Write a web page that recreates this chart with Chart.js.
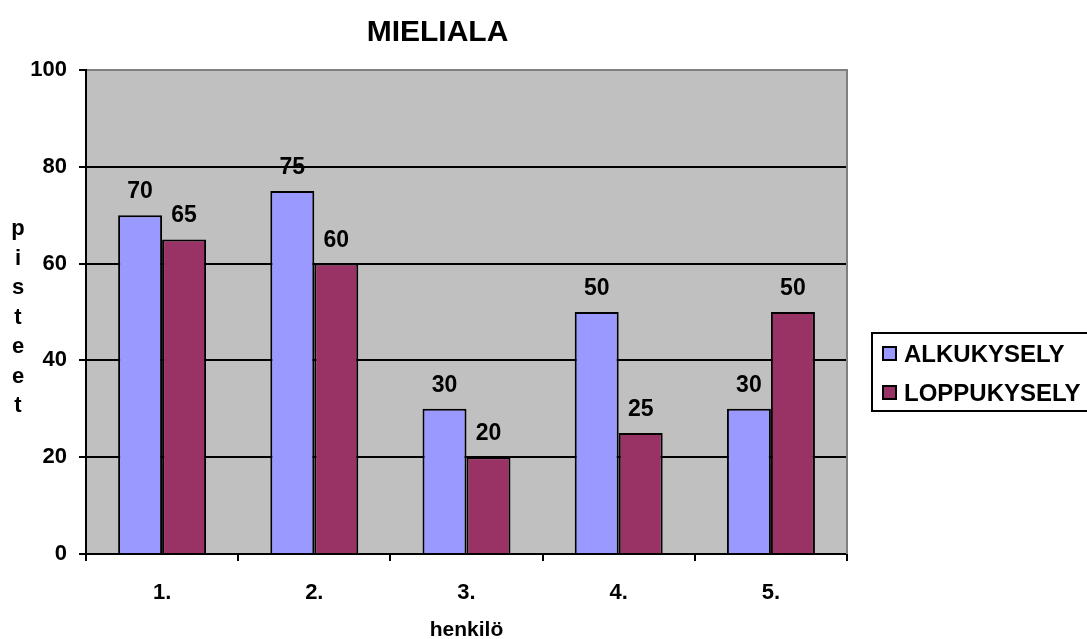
<!DOCTYPE html>
<html>
<head>
<meta charset="utf-8">
<title>MIELIALA</title>
<script src="https://cdn.jsdelivr.net/npm/chart.js@4/dist/chart.umd.min.js"></script>
<style>
  html, body { margin: 0; padding: 0; background: #ffffff; }
  #wrap { width: 1087px; height: 639px; }
</style>
</head>
<body>
<div id="wrap"><canvas id="chart" width="1087" height="639"></canvas></div>
<script>
// Mood scores per person, start and end survey
const categories = ['1.', '2.', '3.', '4.', '5.'];
const alkukysely = [70, 75, 30, 50, 30];
const loppukysely = [65, 60, 20, 25, 50];
const seriesNames = ['ALKUKYSELY', 'LOPPUKYSELY'];
const seriesColors = ['#9999FF', '#993366'];
const yTitleLetters = ['p', 'i', 's', 't', 'e', 'e', 't'];
const chartTitle = 'MIELIALA';

const FONT = "'Liberation Sans', Arial, Helvetica, sans-serif";

// Gray plot background plus the gray right frame edge
const plotBackground = {
  id: 'plotBackground',
  beforeDraw(chart) {
    const { ctx, chartArea: a } = chart;
    ctx.save();
    ctx.fillStyle = '#C0C0C0';
    ctx.fillRect(a.left, a.top, a.right - a.left, a.bottom - a.top);
    ctx.restore();
  },
  beforeDatasetsDraw(chart) {
    const { ctx, chartArea: a } = chart;
    ctx.save();
    ctx.strokeStyle = '#808080';
    ctx.lineWidth = 2;
    ctx.beginPath();
    ctx.moveTo(a.right, a.top - 1);
    ctx.lineTo(a.right, a.bottom);
    ctx.stroke();
    ctx.restore();
  }
};

// Value labels above each bar
const valueLabels = {
  id: 'valueLabels',
  afterDatasetsDraw(chart) {
    const { ctx } = chart;
    ctx.save();
    ctx.font = 'bold 23px ' + FONT;
    ctx.fillStyle = '#000000';
    ctx.textAlign = 'center';
    ctx.textBaseline = 'alphabetic';
    chart.data.datasets.forEach((ds, i) => {
      chart.getDatasetMeta(i).data.forEach((bar, j) => {
        ctx.fillText(String(ds.data[j]), bar.x, bar.y - 17);
      });
    });
    ctx.restore();
  }
};

// Chart heading and the vertical axis title written as stacked letters
const headings = {
  id: 'headings',
  afterDraw(chart) {
    const { ctx } = chart;
    ctx.save();
    ctx.fillStyle = '#000000';
    ctx.textAlign = 'center';
    ctx.textBaseline = 'alphabetic';
    ctx.font = 'bold 30px ' + FONT;
    ctx.fillText(chartTitle, 437.5, 41);
    ctx.font = 'bold 22px ' + FONT;
    yTitleLetters.forEach((ch, k) => {
      ctx.fillText(ch, 18, 235 + k * 29.5);
    });
    ctx.restore();
  }
};

// Framed legend at the right side
const boxedLegend = {
  id: 'boxedLegend',
  afterDraw(chart) {
    const { ctx } = chart;
    ctx.save();
    ctx.strokeStyle = '#000000';
    ctx.lineWidth = 2;
    ctx.strokeRect(872, 333, 260, 78);
    ctx.font = 'bold 24px ' + FONT;
    ctx.textAlign = 'left';
    ctx.textBaseline = 'alphabetic';
    chart.data.datasets.forEach((ds, i) => {
      const y = 346 + i * 39;
      ctx.fillStyle = ds.backgroundColor;
      ctx.fillRect(882, y, 15, 15);
      ctx.lineWidth = 2;
      ctx.strokeRect(883, y + 1, 13, 13);
      ctx.fillStyle = '#000000';
      ctx.fillText(ds.label, 904, y + 16);
    });
    ctx.restore();
  }
};

new Chart(document.getElementById('chart'), {
  type: 'bar',
  data: {
    labels: categories,
    datasets: [
      {
        label: seriesNames[0],
        data: alkukysely,
        backgroundColor: seriesColors[0],
        borderColor: '#000000',
        borderWidth: 2,
        borderSkipped: 'start'
      },
      {
        label: seriesNames[1],
        data: loppukysely,
        backgroundColor: seriesColors[1],
        borderColor: '#000000',
        borderWidth: 2,
        borderSkipped: 'start'
      }
    ]
  },
  options: {
    responsive: false,
    animation: false,
    devicePixelRatio: 1,
    layout: { padding: { left: 0, right: 240, top: 70, bottom: 0 } },
    datasets: {
      bar: { categoryPercentage: 0.578, barPercentage: 1.0 }
    },
    plugins: {
      legend: { display: false },
      tooltip: { enabled: false },
      title: { display: false }
    },
    scales: {
      x: {
        afterFit(scale) { scale.height = 85; },
        grid: {
          display: true,
          offset: true,
          drawOnChartArea: false,
          drawTicks: true,
          tickLength: 7,
          color: '#000000',
          lineWidth: 2
        },
        border: { display: true, color: '#000000', width: 2 },
        ticks: {
          color: '#000000',
          padding: 19,
          font: { family: FONT, size: 22, weight: 'bold' }
        },
        title: {
          display: true,
          text: 'henkilö',
          color: '#000000',
          padding: 0,
          font: { family: FONT, size: 21, weight: 'bold', lineHeight: 0.8 }
        }
      },
      y: {
        min: 0,
        max: 100,
        afterFit(scale) { scale.width = 86; },
        grid: {
          drawTicks: true,
          tickLength: 7,
          lineWidth: 2,
          color: (c) => (c.tick && c.tick.value === 100 ? '#808080' : '#000000'),
          tickColor: '#000000'
        },
        border: { display: true, color: '#000000', width: 2 },
        ticks: {
          stepSize: 20,
          color: '#000000',
          padding: 12,
          font: { family: FONT, size: 22, weight: 'bold' }
        }
      }
    }
  },
  plugins: [plotBackground, valueLabels, headings, boxedLegend]
});
</script>
</body>
</html>
